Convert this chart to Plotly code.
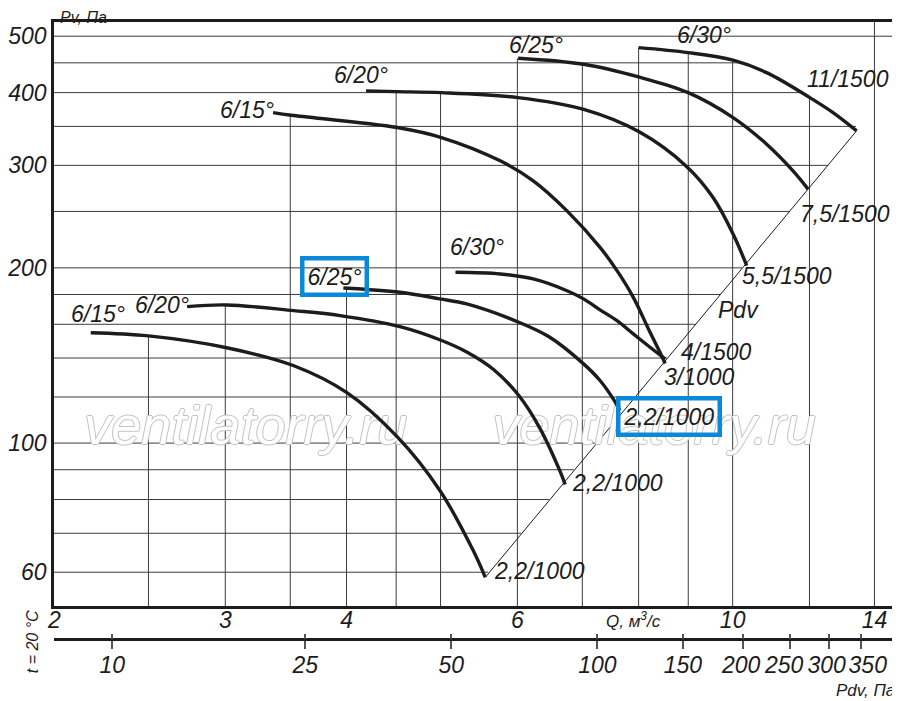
import math
import plotly.graph_objects as go

# fan curves: Q, m3/s  and  Pv, Pa
q_15_low = [2.18, 2.50, 3.01, 3.53, 4.00, 4.51, 4.99, 5.40, 5.56]
p_15_low = [154.7, 152.8, 145.8, 135.8, 122.2, 102.6, 83.0, 65.5, 58.8]

q_20_low = [2.74, 3.01, 3.53, 3.94, 4.54, 4.99, 5.32, 5.67, 6.02, 6.33, 6.64, 6.72]
p_20_low = [171.6, 172.7, 168.9, 165.6, 158.5, 150.5, 143.4, 133.8, 120.7, 106.0, 89.4, 84.9]

q_25_low = [3.97, 4.54, 4.99, 5.32, 6.02, 6.48, 7.02, 7.30, 7.53, 7.65]
p_25_low = [184.7, 181.6, 176.9, 173.4, 161.3, 152.0, 136.8, 128.1, 119.2, 113.8]

q_30_low = [5.18, 5.76, 6.23, 6.75, 7.02, 7.30, 7.60, 7.90, 8.22, 8.52]
p_30_low = [196.5, 195.2, 191.4, 182.7, 176.9, 169.4, 162.3, 154.0, 146.1, 139.5]

q_15_up = [3.36, 3.51, 4.51, 5.01, 5.76, 6.23, 6.75, 7.30, 7.60, 7.90, 8.22, 8.42, 8.52]
p_15_up = [369.6, 365.8, 348.4, 334.9, 305.4, 282.2, 250.6, 216.9, 197.8, 178.0, 155.0, 143.0, 137.0]

q_20_up = [4.19, 4.51, 5.01, 6.01, 7.01, 8.01, 8.97, 9.55, 10.01, 10.34]
p_20_up = [402.7, 401.6, 400.0, 392.2, 374.6, 342.5, 298.4, 263.9, 228.7, 201.7]

q_25_up = [6.01, 7.02, 8.00, 9.00, 10.01, 10.84, 11.54, 11.96]
p_25_up = [458.3, 447.5, 425.6, 400.0, 362.4, 326.2, 293.6, 273.1]

q_30_up = [8.00, 9.00, 10.01, 10.84, 12.01, 12.69, 13.42]
p_30_up = [477.9, 468.6, 454.7, 432.9, 392.2, 369.6, 343.9]

curves_q = [q_15_low, q_20_low, q_25_low, q_30_low, q_15_up, q_20_up, q_25_up, q_30_up]
curves_p = [p_15_low, p_20_low, p_25_low, p_30_low, p_15_up, p_20_up, p_25_up, p_30_up]

# dynamic pressure line
pdv_line_q = [5.56, 13.42]
pdv_line_p = [58.8, 344.0]

# labels
label_text = ["6/15°", "6/20°", "6/25°", "6/30°", "6/15°", "6/20°", "6/25°", "6/30°",
              "11/1500", "7,5/1500", "5,5/1500", "Pdv", "4/1500", "3/1000",
              "2,2/1000", "2,2/1000", "2,2/1000"]
label_q = [2.22, 2.58, 3.89, 5.45, 3.16, 4.14, 6.27, 9.34,
           13.14, 13.05, 11.37, 10.13, 9.63, 9.25, 8.60, 7.60, 6.32]
label_p = [166.9, 172.9, 193.2, 217.5, 373.6, 429.0, 483.1, 502.4,
           422.2, 247.7, 194.0, 169.6, 143.1, 130.1, 111.1, 85.3, 60.3]
boxed = [2, 14]

# grid
vgrid_q = [2.5, 3, 3.5, 4, 4.5, 5, 6, 7, 8, 9, 10, 12, 14]
vgrid_top = [153, 173, 366, 185, 402, 400, 458, 447, 478, 469, 455, 392, 600]
hgrid_p = [60, 70, 80, 90, 100, 120, 140, 160, 180, 200, 250, 300, 350, 400, 450, 500]
hgrid_end = [5.6, 6.05, 6.47, 6.86, 7.24, 7.93, 8.56, 9.15, 9.71, 10.23, 11.44, 12.53,
             13.4, 11.8, 10.2, 16]

q_ticks = [2, 3, 4, 6, 10, 14]
p_ticks = [60, 100, 200, 300, 400, 500]
pdv_ticks = [10, 25, 50, 100, 150, 200, 250, 300, 350]
# the crowded labels on the right are nudged apart with narrow spaces, as in the original
pdv_text = ["10", "25", "50", "100", "150", "200\u2009", "250\u2007", "300\u2009", "\u2007350"]
pdv_coef = 1.9  # Pdv = 1.9 * Q^2

q_min, q_max = 1.998, 14.7
p_min, p_max = 52.5, 528.9

wm_q = [3.15, 8.3]
wm_p = [105, 105]

ink = "#1c1c1c"
blue = "#0a89d9"

fig = go.Figure()

gx, gy = [], []
for q, top in zip(vgrid_q, vgrid_top):
    gx += [q, q, None]
    gy += [p_min * 0.9, top, None]
for p, end in zip(hgrid_p, hgrid_end):
    gx += [q_min * 0.9, end, None]
    gy += [p, p, None]
fig.add_trace(go.Scatter(x=gx, y=gy, mode="lines", line=dict(color="#3c3c3c", width=1),
                         hoverinfo="skip", showlegend=False))

fig.add_trace(go.Scatter(x=pdv_line_q, y=pdv_line_p, mode="lines",
                         line=dict(color=ink, width=1), hoverinfo="skip", showlegend=False))

fig.add_trace(go.Scatter(
    x=wm_q, y=wm_p, mode="text", text=["ventilatorry.ru"] * 2,
    textfont=dict(family="Liberation Sans", size=54, style="italic", color="white",
                  shadow="1px 0 0 #c2c2c2, -1px 0 0 #c2c2c2, 0 1px 0 #c2c2c2, 0 -1px 0 #c2c2c2"),
    hoverinfo="skip", showlegend=False))

for cq, cp in zip(curves_q, curves_p):
    fig.add_trace(go.Scatter(x=cq, y=cp, mode="lines",
                             line=dict(color=ink, width=3.4, shape="spline", smoothing=1.0),
                             hoverinfo="skip", showlegend=False))

# empty traces so the Pdv axes get drawn
for ax in ["x2", "x3"]:
    fig.add_trace(go.Scatter(x=[pdv_ticks[0], pdv_ticks[-1]], y=[None, None], xaxis=ax,
                             mode="lines", hoverinfo="skip", showlegend=False))

for i, (t, q, p) in enumerate(zip(label_text, label_q, label_p)):
    a = dict(text=t, x=math.log10(q), y=math.log10(p), xref="x", yref="y",
             showarrow=False, font=dict(size=23))
    if i in boxed:
        a.update(bordercolor=blue, borderwidth=4.5, borderpad=3)
    fig.add_annotation(**a)

mid = dict(showarrow=False, xanchor="center", yanchor="middle")
fig.add_annotation(text="Pv, Па", xref="paper", yref="paper", x=0.0345, y=1.0075,
                   font=dict(size=16), **mid)
fig.add_annotation(text="Q, м<sup>3</sup>/с", xref="x", yref="paper", x=math.log10(7.9), y=0.031,
                   font=dict(size=17), **mid)
fig.add_annotation(text="Pdv, Па", xref="paper", yref="paper", x=0.9655, y=-0.084,
                   font=dict(size=17), **mid)
fig.add_annotation(text="t = 20 °C", xref="paper", yref="paper", x=-0.026, y=-0.005,
                   textangle=-90, font=dict(size=16), **mid)

axis_line = dict(showline=True, linewidth=2.5, linecolor=ink, mirror=True, showgrid=False,
                 zeroline=False, ticks="", automargin=False, tickangle=0)
pdv_range = [math.log10(pdv_coef * q_min ** 2), math.log10(pdv_coef * q_max ** 2)]
# page body keeps an 8px margin, so the figure is 8px smaller and margins shifted
fig.update_layout(
    width=892, height=693,
    margin=dict(l=46, r=5, t=14, b=62),
    paper_bgcolor="white", plot_bgcolor="white",
    font=dict(family="Liberation Sans", style="italic", color=ink, size=23),
    showlegend=False,
    xaxis=dict(type="log", range=[math.log10(q_min), math.log10(q_max)],
               tickvals=q_ticks, ticktext=[str(v) for v in q_ticks], ticklabelstandoff=-8,
               **axis_line),
    yaxis=dict(type="log", range=[math.log10(p_min), math.log10(p_max)], domain=[0.0535, 1],
               tickvals=p_ticks, ticktext=[str(v) for v in p_ticks], **axis_line),
    xaxis2=dict(type="log", overlaying="x", anchor="free", position=0, range=pdv_range,
                tickvals=pdv_ticks, ticktext=pdv_text, tickangle=0, ticklabelstandoff=-3,
                ticks="outside", ticklen=8, tickwidth=1.5, tickcolor="#555", automargin=False,
                showline=True, linewidth=2.5, linecolor=ink, showgrid=False, zeroline=False),
    xaxis3=dict(type="log", overlaying="x", anchor="free", position=0, range=pdv_range,
                tickvals=pdv_ticks, showticklabels=False, automargin=False,
                ticks="inside", ticklen=5, tickwidth=1.5, tickcolor="#555",
                showline=False, showgrid=False, zeroline=False),
)

fig.write_html("out.html")
